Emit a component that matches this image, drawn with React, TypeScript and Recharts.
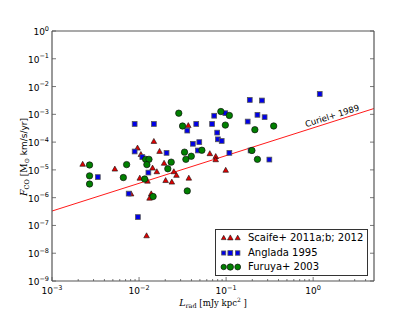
import { ScatterChart, Scatter, XAxis, YAxis, ReferenceLine, Legend } from 'recharts'

// Scaife+ 2011a;b; 2012  [L_rad, F_CO]
const scaife = [
  [2.25e-3, 1.58e-5], [5.27e-3, 1.06e-5], [9.6e-3, 6.05e-5], [1.05e-2, 3.56e-5],
  [1.02e-2, 5.0e-6], [1.25e-2, 3.9e-6], [8.1e-3, 1.35e-6], [1.22e-2, 4.2e-8],
  [1.38e-2, 1.36e-6], [1.32e-2, 9.5e-7], [1.48e-2, 1.05e-4], [1.43e-2, 1.15e-5],
  [1.6e-2, 8.5e-6], [1.72e-2, 4.6e-5], [1.94e-2, 1.72e-5], [2.02e-2, 4.1e-6],
  [2.38e-2, 3.6e-6], [2.51e-2, 8.5e-6], [2.69e-2, 6.3e-6], [3.73e-2, 5.0e-6],
  [3.68e-2, 3.9e-4], [6.5e-2, 3.8e-5], [7.6e-2, 3.0e-5], [7.6e-2, 2.3e-5],
  [9.9e-2, 9.6e-6],
].map(([x, y]) => ({ x, y }))

// Anglada 1995
const anglada = [
  [3.36e-3, 5.5e-6], [7.6e-3, 1.4e-6], [9.7e-3, 2.0e-7], [8.9e-3, 4.5e-4],
  [1.48e-2, 4.5e-4], [8.9e-3, 4.6e-5], [1.09e-2, 2.9e-5], [1.28e-2, 8.0e-6],
  [2.07e-2, 4.1e-5], [3.58e-2, 2.6e-4], [4.54e-2, 4.5e-4], [4.15e-2, 8.7e-5],
  [4.92e-2, 1.0e-4], [4.74e-2, 5.0e-5], [7.3e-2, 8.9e-4], [9.8e-2, 1.1e-3],
  [6.9e-2, 4.5e-4], [7.9e-2, 2.2e-4], [8.05e-2, 1.26e-4], [8.9e-2, 1.1e-4],
  [0.109, 4.1e-5], [0.177, 5.5e-4], [0.187, 3.3e-3], [0.258, 3.15e-3],
  [0.229, 9.6e-4], [0.277, 7.9e-4], [0.191, 5.0e-5], [0.314, 2.35e-5],
  [1.19, 5.4e-3],
].map(([x, y]) => ({ x, y }))

// Furuya+ 2003
const furuya = [
  [2.7e-3, 1.5e-5], [2.7e-3, 6.1e-6], [2.7e-3, 3.1e-6], [6.6e-3, 5.3e-6],
  [7.2e-3, 1.55e-5], [1.16e-2, 4.7e-6], [1.19e-2, 2.4e-5], [1.3e-2, 2.4e-5],
  [1.23e-2, 1.55e-5], [1.45e-2, 1.1e-6], [2.14e-2, 1.1e-5], [2.34e-2, 1.9e-5],
  [2.86e-2, 1.1e-3], [3.16e-2, 3.8e-4], [3.33e-2, 4.35e-5], [3.45e-2, 2.4e-5],
  [3.98e-2, 3.1e-5], [3.58e-2, 1.75e-6], [5.27e-2, 5.1e-5], [8.7e-2, 1.26e-3],
  [0.109, 9.1e-4], [9.8e-2, 4.1e-4], [0.214, 2.8e-4], [0.352, 3.8e-4],
  [0.198, 5.0e-5], [0.229, 2.4e-5],
].map(([x, y]) => ({ x, y }))

// Curiel+ 1989 relation, end points
const curiel = [{ x: 1e-3, y: 3.3e-7 }, { x: 5, y: 1.62e-3 }]
const curielLabel = [{ x: 1.65, y: 8.85e-4 }]

const xDomain = [1e-3, 5]
const yDomain = [1e-9, 1]
const xTicks = [1e-3, 1e-2, 1e-1, 1].flatMap(d => [1, 2, 3, 4, 5, 6, 7, 8, 9].map(m => m * d)).filter(v => v < 5)
const yTicks = [-9, -8, -7, -6, -5, -4, -3, -2, -1, 0].map(e => Math.pow(10, e))

const SANS = '"DejaVu Sans", sans-serif'
const SERIF = '"DejaVu Serif", serif'
const FRAME = '#555'
const RED = '#e00000'
const BLUE = '#0000e8'
const GREEN = '#008000'

const isMajor = (v: number) => {
  const l = Math.log10(v)
  return Math.abs(l - Math.round(l)) < 1e-6
}
const expo = (v: number) => String(Math.round(Math.log10(v))).replace('-', '\u2212')

const Pow = ({ v }: { v: number }) => (
  <>
    10<tspan dy={-4.5} fontSize={6.5}>{expo(v)}</tspan>
  </>
)

function xTick(dir: number, label: boolean) {
  return (p: any) => {
    const v = p.payload.value
    const major = isMajor(v)
    return (
      <g>
        <line x1={p.x} x2={p.x} y1={p.y} y2={p.y + dir * (major ? 4 : 2)} stroke={FRAME} strokeWidth={0.8} />
        {label && major && (
          <text x={p.x} y={p.y + 13} textAnchor="middle" fontSize={9} fontFamily={SANS} fill="#000">
            <Pow v={v} />
          </text>
        )}
      </g>
    )
  }
}

function yTick(dir: number, label: boolean) {
  return (p: any) => {
    const v = p.payload.value
    return (
      <g>
        <line x1={p.x} x2={p.x + dir * 4} y1={p.y} y2={p.y} stroke={FRAME} strokeWidth={0.8} />
        {label && (
          <text x={p.x - 3} y={p.y + 4} textAnchor="end" fontSize={9} fontFamily={SANS} fill="#000">
            <Pow v={v} />
          </text>
        )}
      </g>
    )
  }
}

const Tri = ({ cx, cy, s = 1 }: any) => {
  const w = 2.8 * s, h = 5 * s
  return <path d={`M${cx},${cy - h * 0.62} L${cx + w},${cy + h * 0.38} L${cx - w},${cy + h * 0.38} Z`} fill={RED} stroke="#111" strokeWidth={0.6} />
}
const Sq = ({ cx, cy, s = 1 }: any) => {
  const a = 2.4 * s
  return <rect x={cx - a} y={cy - a} width={2 * a} height={2 * a} fill={BLUE} stroke="#555" strokeWidth={0.8} />
}
const Circ = ({ cx, cy, s = 1 }: any) => (
  <circle cx={cx} cy={cy} r={3.2 * s} fill={GREEN} stroke="#111" strokeWidth={0.7} />
)

const CurielText = (p: any) => (
  <text x={p.cx} y={p.cy} dy={3} textAnchor="middle" fontSize={8.5} fontFamily={SANS} fill="#000"
    transform={`rotate(-17.6 ${p.cx} ${p.cy})`}>
    Curiel+ 1989
  </text>
)

const legendRows = [
  { label: 'Scaife+ 2011a;b; 2012', M: Tri },
  { label: 'Anglada 1995', M: Sq },
  { label: 'Furuya+ 2003', M: Circ },
]

function LegendBox() {
  return (
    <div style={{ position: 'relative', width: 153, height: 47, boxSizing: 'border-box', border: '1px solid #333', background: '#fff', fontFamily: SANS, fontSize: 10, color: '#000' }}>
      {legendRows.map((r, i) => (
        <div key={r.label} style={{ position: 'absolute', left: 0, top: 1 + i * 14.7, height: 14, width: 151 }}>
          <svg width={30} height={14} style={{ position: 'absolute', left: 0, top: 0 }}>
            <r.M cx={7.7} cy={7} s={0.85} />
            <r.M cx={14.3} cy={7} s={1} />
            <r.M cx={21.7} cy={7} s={0.92} />
          </svg>
          <span style={{ position: 'absolute', left: 32, top: 0, lineHeight: '14px', whiteSpace: 'nowrap' }}>{r.label}</span>
        </div>
      ))}
    </div>
  )
}

const YLabel = () => (
  <text transform="translate(27,157) rotate(-90)" textAnchor="middle" fontSize={9} fontFamily={SANS} fill="#000">
    <tspan fontFamily={SERIF} fontStyle="italic" fontSize={9.5}>F</tspan>
    <tspan fontSize={6.5} dy={2} fontFamily={SERIF}>CO</tspan>
    <tspan dy={-2} fontFamily={SERIF}>{'  [M'}</tspan>
    <tspan fontSize={6.5} dy={2}>⊙</tspan>
    <tspan dy={-2}>{' km/s/yr]'}</tspan>
  </text>
)

const XLabel = () => (
  <text x={213} y={306} textAnchor="middle" fontSize={8.5} fontFamily={SERIF} fill="#000">
    <tspan fontStyle="italic" fontSize={9.5}>L</tspan>
    <tspan fontSize={6.5} dy={2}>rad</tspan>
    <tspan dy={-2}>{'  [mJy kpc'}</tspan>
    <tspan fontSize={6} dy={-4}>2</tspan>
    <tspan dy={4}>{' ]'}</tspan>
  </text>
)

export default function App() {
  return (
    <div style={{ position: 'absolute', left: 0, top: 0, width: 415, height: 313, background: '#fff' }}>
      <ScatterChart width={415} height={313} margin={{ top: 30, right: 40, bottom: 12, left: 12 }}>
        <XAxis dataKey="x" type="number" scale="log" domain={xDomain} allowDataOverflow ticks={xTicks} interval={0}
          height={20} tickSize={0} tickMargin={0} tickLine={false} axisLine={{ stroke: FRAME, strokeWidth: 1.2 }}
          tick={xTick(-1, true)} label={{ content: () => <XLabel /> }} />
        <XAxis xAxisId="top" orientation="top" type="number" scale="log" domain={xDomain} allowDataOverflow ticks={xTicks}
          interval={0} height={1} tickSize={0} tickMargin={0} tickLine={false} axisLine={{ stroke: FRAME, strokeWidth: 1.2 }}
          tick={xTick(1, false)} />
        <YAxis dataKey="y" type="number" scale="log" domain={yDomain} allowDataOverflow ticks={yTicks} interval={0}
          width={40} tickSize={0} tickMargin={0} tickLine={false} axisLine={{ stroke: FRAME, strokeWidth: 1.2 }}
          tick={yTick(1, true)} label={{ content: () => <YLabel /> }} />
        <YAxis yAxisId="right" orientation="right" type="number" scale="log" domain={yDomain} allowDataOverflow ticks={yTicks}
          interval={0} width={1} tickSize={0} tickMargin={0} tickLine={false} axisLine={{ stroke: FRAME, strokeWidth: 1.2 }}
          tick={yTick(-1, false)} />
        <ReferenceLine segment={curiel} stroke="#ff0000" strokeWidth={0.9} ifOverflow="visible" />
        <Scatter data={curielLabel} shape={CurielText} isAnimationActive={false} legendType="none" />
        <Scatter data={scaife} shape={(p: any) => <Tri cx={p.cx} cy={p.cy} />} isAnimationActive={false} />
        <Scatter data={anglada} shape={(p: any) => <Sq cx={p.cx} cy={p.cy} />} isAnimationActive={false} />
        <Scatter data={furuya} shape={(p: any) => <Circ cx={p.cx} cy={p.cy} />} isAnimationActive={false} />
        <Legend layout="horizontal" verticalAlign="middle" align="center"
          wrapperStyle={{ left: 215, top: 229, width: 153, height: 47 }} content={() => <LegendBox />} />
      </ScatterChart>
    </div>
  )
}
